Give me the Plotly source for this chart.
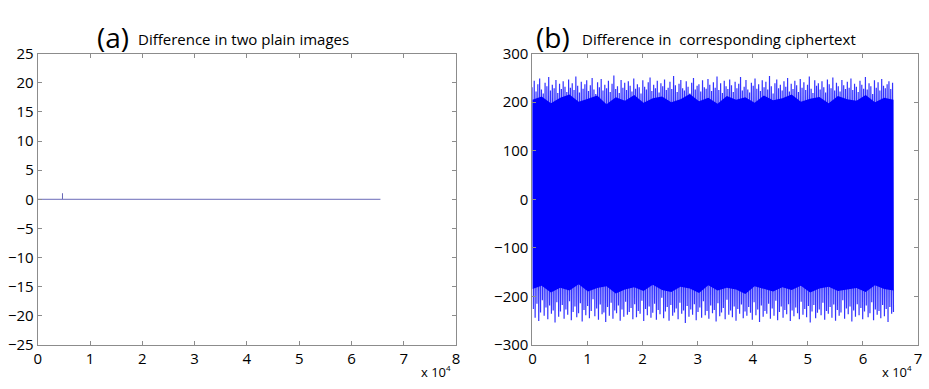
import numpy as np
import plotly.graph_objects as go

# ---------------- data ----------------
# (a) difference between the two plain images: zero everywhere except one pixel
plain_x = [1, 4739, 4740, 4741, 65536]
plain_y = [0, 0, 1, 0, 0]

# (b) difference in corresponding ciphertext: envelope of the dense signal
cipher_upper = [231, 244, 222, 237, 249, 226, 218, 240, 233, 252, 224, 236, 229, 246, 219, 238, 227, 243, 232, 221,
                247, 230, 239, 225, 253, 234, 220, 242, 228, 237, 245, 223, 235, 250, 226, 217, 241, 231, 248, 224,
                236, 229, 244, 221, 238, 255, 227, 233, 219, 246, 230, 240, 225, 243, 234, 222, 249, 228, 237, 231,
                218, 245, 232, 226, 241, 251, 223, 236, 229, 244, 220, 239, 233, 247, 225, 230, 242, 227, 254, 235,
                221, 238, 246, 229, 224, 243, 232, 218, 240, 250, 226, 234, 237, 222, 245, 231, 228, 248, 236, 223,
                241, 230, 253, 225, 239, 219, 244, 233, 227, 247, 235, 221, 242, 229, 238, 252, 224, 232, 246, 226,
                220, 240, 234, 249, 228, 237, 223, 245, 231, 242, 226, 254, 233, 218, 239, 247, 229, 236, 224, 243,
                232, 250, 222, 238, 227, 244, 235, 221, 248, 230, 241, 225, 236, 253, 228, 219, 245, 234, 239, 226,
                243, 231, 220, 247, 237, 229, 251, 224, 240, 233, 222, 246, 235, 227, 242, 230, 249, 225, 238, 232,
                221, 244, 236, 228, 252, 226, 239, 233, 217, 245, 230, 241, 224, 248, 234, 229, 237, 243, 227, 240]
cipher_lower = [-226, -244, -215, -251, -233, -208, -240, -223, -247, -219, -236, -229, -254, -212, -242, -231, -218, -246, -227, -238,
                -210, -249, -232, -221, -243, -235, -214, -252, -228, -239, -220, -245, -230, -206, -241, -225, -248, -217, -237, -233,
                -253, -222, -240, -213, -246, -229, -235, -219, -250, -227, -242, -211, -238, -232, -224, -247, -216, -243, -230, -236,
                -209, -251, -226, -239, -221, -244, -234, -215, -248, -228, -237, -203, -245, -231, -222, -250, -218, -240, -233, -225,
                -247, -213, -236, -229, -255, -220, -242, -227, -238, -216, -249, -232, -223, -244, -210, -239, -230, -246, -219, -235,
                -228, -252, -214, -241, -233, -224, -247, -207, -238, -229, -243, -221, -250, -226, -236, -217, -245, -231, -240, -222,
                -234, -248, -212, -239, -227, -253, -219, -242, -230, -236, -215, -246, -225, -240, -209, -249, -232, -221, -244, -228,
                -237, -216, -251, -229, -241, -223, -235, -247, -211, -238, -226, -243, -220, -254, -231, -218, -245, -234, -227, -239,
                -213, -248, -230, -236, -222, -244, -217, -250, -228, -240, -233, -208, -246, -225, -237, -221, -252, -229, -242, -216,
                -239, -224, -247, -231, -219, -243, -235, -212, -249, -227, -238, -230, -245, -218, -241, -226, -253, -222, -236, -232]
cipher_core_top = [205, 212, 198, 209, 216, 201, 207, 214, 196, 210, 203, 215, 199, 208, 212, 200, 206, 217, 202, 209,
                   197, 213, 205, 210, 199, 214, 204, 208, 216, 201, 207, 211, 198, 213, 206, 203, 215, 200, 209, 205]
cipher_core_bottom = [-185, -178, -192, -182, -188, -175, -190, -183, -179, -194, -186, -181, -189, -176, -187, -191, -180, -184, -193, -177,
                      -188, -182, -186, -195, -179, -185, -190, -181, -187, -178, -192, -184, -180, -189, -186, -183, -191, -177, -185, -188]
n_samples = 65536

a_xticks = [0, 1, 2, 3, 4, 5, 6, 7, 8]
b_xticks = [0, 1, 2, 3, 4, 5, 6, 7]
a_yticks = [-25, -20, -15, -10, -5, 0, 5, 10, 15, 20, 25]
b_yticks = [-300, -200, -100, 0, 100, 200, 300]

# ---------------- build series ----------------
n_env = len(cipher_upper)
env_x = np.linspace(1, n_samples, 2 * n_env)
env_y = []
for u, l in zip(cipher_upper, cipher_lower):
    env_y += [u, l]

core_x = list(np.linspace(1, n_samples, len(cipher_core_top)))
core_poly_x = core_x + core_x[::-1]
core_poly_y = cipher_core_top + cipher_core_bottom[::-1]

fig = go.Figure()
fig.add_trace(go.Scatter(x=plain_x, y=plain_y, mode="lines",
                         line=dict(color="#6a6ab8", width=1), xaxis="x", yaxis="y",
                         hoverinfo="skip", showlegend=False))
fig.add_trace(go.Scatter(x=env_x, y=env_y, mode="lines",
                         line=dict(color="rgba(0,0,255,0.8)", width=1.2),
                         xaxis="x2", yaxis="y2", hoverinfo="skip", showlegend=False))
fig.add_trace(go.Scatter(x=core_poly_x, y=core_poly_y, mode="lines", fill="toself",
                         fillcolor="#0000ff", line=dict(color="#0000ff", width=0),
                         xaxis="x2", yaxis="y2", hoverinfo="skip", showlegend=False))

W, H = 929, 389
axis_common = dict(showline=True, linecolor="#8c8c8c", linewidth=1, mirror="ticks",
                   ticks="inside", ticklen=4, tickcolor="#8c8c8c", showgrid=False,
                   zeroline=False, tickfont=dict(family="Open Sans", size=15, color="#000"))

fig.update_layout(
    width=W, height=H, margin=dict(l=0, r=0, t=0, b=0),
    paper_bgcolor="white", plot_bgcolor="white",
    xaxis=dict(domain=[34 / W, 456 / W], range=[0, 80000], anchor="y",
               tickvals=[t * 10000 for t in a_xticks], ticktext=[str(t) for t in a_xticks],
               **axis_common),
    yaxis=dict(domain=[37 / H, 344 / H], range=[-25, 25], anchor="x",
               tickvals=a_yticks, **axis_common),
    xaxis2=dict(domain=[533 / W, 922 / W], range=[0, 70000], anchor="y2",
                tickvals=[t * 10000 for t in b_xticks], ticktext=[str(t) for t in b_xticks],
                **axis_common),
    yaxis2=dict(domain=[37 / H, 344 / H], range=[-300, 300], anchor="x2",
                tickvals=b_yticks, **axis_common),
)


def note(x, y, text, size, xanchor="left"):
    fig.add_annotation(x=x / W, y=1 - y / H, xref="paper", yref="paper", showarrow=False,
                       xanchor=xanchor, yanchor="middle", text=text,
                       font=dict(family="Open Sans", size=size, color="#000"))


note(92, 27, "(a)", 28)
note(133, 29, "Difference in two plain images", 15)
note(535, 27, "(b)", 28)
note(581, 29, "Difference in  corresponding ciphertext", 15)
for xl in (419, 884):
    note(xl, 381, "x 10", 13)
    note(xl + 25, 376, "4", 8)

fig.write_html("out.html")
